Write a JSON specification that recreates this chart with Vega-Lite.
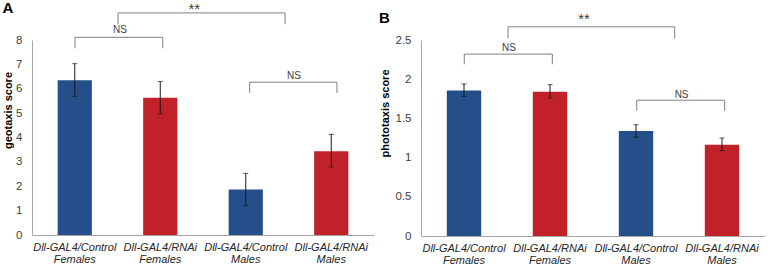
{
  "$schema": "https://vega.github.io/schema/vega-lite/v6.json",
  "padding": {"left": 2, "top": 0, "right": 0, "bottom": 0},
  "spacing": 5,
  "config": {
    "view": {"stroke": null},
    "font": "Liberation Sans",
    "axis": {"domainColor": "#a6a6a6", "grid": false, "ticks": false, "tickSize": 0, "labelColor": "#404040", "labelFont": "Liberation Sans", "titleFont": "Liberation Sans", "labelOverlap": false}
  },
  "datasets": {
    "geo": [
      {"group": "Dll-GAL4/Control Females", "genotype": "Control", "value": 6.35, "lo": 5.69, "hi": 7.03},
      {"group": "Dll-GAL4/RNAi Females", "genotype": "RNAi", "value": 5.63, "lo": 4.97, "hi": 6.3},
      {"group": "Dll-GAL4/Control Males", "genotype": "Control", "value": 1.87, "lo": 1.2, "hi": 2.53},
      {"group": "Dll-GAL4/RNAi Males", "genotype": "RNAi", "value": 3.44, "lo": 2.79, "hi": 4.13}
    ],
    "photo": [
      {"group": "Dll-GAL4/Control Females", "genotype": "Control", "value": 1.855, "lo": 1.78, "hi": 1.94},
      {"group": "Dll-GAL4/RNAi Females", "genotype": "RNAi", "value": 1.84, "lo": 1.76, "hi": 1.93},
      {"group": "Dll-GAL4/Control Males", "genotype": "Control", "value": 1.34, "lo": 1.26, "hi": 1.42},
      {"group": "Dll-GAL4/RNAi Males", "genotype": "RNAi", "value": 1.165, "lo": 1.09, "hi": 1.25}
    ],
    "geoBr": [
      {"label": "NS", "x1": 0.503, "x2": 1.53, "ytop": 8.11, "ybot": 7.66, "lx": 1.03, "ly": 8.27},
      {"label": "**", "x1": 1.006, "x2": 2.96, "ytop": 9.11, "ybot": 8.65, "lx": 1.898, "ly": 9.07},
      {"label": "NS", "x1": 2.546, "x2": 3.567, "ytop": 6.27, "ybot": 5.83, "lx": 3.065, "ly": 6.38}
    ],
    "photoBr": [
      {"label": "NS", "x1": 0.503, "x2": 1.527, "ytop": 2.32, "ybot": 2.19, "lx": 1.023, "ly": 2.363},
      {"label": "**", "x1": 1.012, "x2": 2.95, "ytop": 2.668, "ybot": 2.52, "lx": 1.895, "ly": 2.698},
      {"label": "NS", "x1": 2.508, "x2": 3.531, "ytop": 1.732, "ybot": 1.597, "lx": 3.03, "ly": 1.766}
    ]
  },
  "hconcat": [
    {
      "width": 342,
      "height": 195,
      "title": {"text": "A", "anchor": "start", "frame": "bounds", "fontSize": 15, "fontWeight": "bold", "baseline": "alphabetic", "offset": -26, "color": "#000000"},
      "layer": [
        {
          "data": {"name": "geo"},
          "layer": [
            {
              "mark": {"type": "bar"},
              "encoding": {
                "x": {"field": "group", "type": "nominal", "sort": null, "scale": {"paddingInner": 0.6, "paddingOuter": 0.3},
                  "axis": {"title": null, "labelAngle": 0, "labelExpr": "split(datum.label, ' ')", "labelFontStyle": "italic", "labelFontSize": 11, "labelLineHeight": 12, "labelPadding": 6, "labelColor": "#262626", "labelBaseline": "top"}},
                "y": {"field": "value", "type": "quantitative", "scale": {"domain": [0, 8], "nice": false},
                  "axis": {"title": "geotaxis score", "values": [0, 1, 2, 3, 4, 5, 6, 7, 8], "tickCount": 9, "labelFontSize": 11.5, "labelPadding": 10, "titleFontSize": 11, "titleFontWeight": "bold", "titleColor": "#000000", "titlePadding": 2, "titleY": 70}},
                "color": {"field": "genotype", "type": "nominal", "scale": {"domain": ["Control", "RNAi"], "range": ["#244F8A", "#C12129"]}, "legend": null}
              }
            },
            {
              "mark": {"type": "rule", "color": "#1a1a1a", "strokeWidth": 1},
              "encoding": {
                "x": {"field": "group", "type": "nominal", "sort": null},
                "y": {"field": "lo", "type": "quantitative"},
                "y2": {"field": "hi"}
              }
            },
            {
              "mark": {"type": "tick", "color": "#1a1a1a", "size": 5, "thickness": 1},
              "encoding": {
                "x": {"field": "group", "type": "nominal", "sort": null},
                "y": {"field": "lo", "type": "quantitative"}
              }
            },
            {
              "mark": {"type": "tick", "color": "#1a1a1a", "size": 5, "thickness": 1},
              "encoding": {
                "x": {"field": "group", "type": "nominal", "sort": null},
                "y": {"field": "hi", "type": "quantitative"}
              }
            }
          ]
        },
        {
          "data": {"name": "geoBr"},
          "layer": [
            {
              "mark": {"type": "rule", "color": "#7f7f7f", "strokeWidth": 1},
              "encoding": {
                "x": {"field": "x1", "type": "quantitative", "scale": {"domain": [0, 4], "nice": false, "zero": false}, "axis": null},
                "x2": {"field": "x2"},
                "y": {"field": "ytop", "type": "quantitative",
                  "axis": {"title": "geotaxis score", "values": [0, 1, 2, 3, 4, 5, 6, 7, 8], "tickCount": 9, "labelFontSize": 11.5, "labelPadding": 10, "titleFontSize": 11, "titleFontWeight": "bold", "titleColor": "#000000", "titlePadding": 2, "titleY": 70}}
              }
            },
            {
              "mark": {"type": "rule", "color": "#7f7f7f", "strokeWidth": 1},
              "encoding": {
                "x": {"field": "x1", "type": "quantitative"},
                "y": {"field": "ytop", "type": "quantitative"},
                "y2": {"field": "ybot"}
              }
            },
            {
              "mark": {"type": "rule", "color": "#7f7f7f", "strokeWidth": 1},
              "encoding": {
                "x": {"field": "x2", "type": "quantitative"},
                "y": {"field": "ytop", "type": "quantitative"},
                "y2": {"field": "ybot"}
              }
            },
            {
              "mark": {"type": "text", "baseline": "alphabetic", "align": "center", "color": "#404040"},
              "encoding": {
                "x": {"field": "lx", "type": "quantitative"},
                "y": {"field": "ly", "type": "quantitative"},
                "text": {"field": "label"},
                "size": {"condition": {"test": "datum.label === '**'", "value": 15}, "value": 10}
              }
            }
          ]
        }
      ],
      "resolve": {"scale": {"x": "independent"}}
    },
    {
      "width": 344,
      "height": 196,
      "title": {"text": "B", "anchor": "start", "frame": "bounds", "fontSize": 15, "fontWeight": "bold", "baseline": "alphabetic", "offset": -26, "color": "#000000"},
      "layer": [
        {
          "data": {"name": "photo"},
          "layer": [
            {
              "mark": {"type": "bar"},
              "encoding": {
                "x": {"field": "group", "type": "nominal", "sort": null, "scale": {"paddingInner": 0.6, "paddingOuter": 0.3},
                  "axis": {"title": null, "labelAngle": 0, "labelExpr": "split(datum.label, ' ')", "labelFontStyle": "italic", "labelFontSize": 11, "labelLineHeight": 12, "labelPadding": 6, "labelColor": "#262626", "labelBaseline": "top"}},
                "y": {"field": "value", "type": "quantitative", "scale": {"domain": [0, 2.5], "nice": false},
                  "axis": {"title": "phototaxis score", "values": [0, 0.5, 1, 1.5, 2, 2.5], "tickCount": 6, "format": "~g", "labelFontSize": 11.5, "labelPadding": 10, "titleFontSize": 11, "titleFontWeight": "bold", "titleColor": "#000000", "titlePadding": 5, "titleY": 73}},
                "color": {"field": "genotype", "type": "nominal", "scale": {"domain": ["Control", "RNAi"], "range": ["#244F8A", "#C12129"]}, "legend": null}
              }
            },
            {
              "mark": {"type": "rule", "color": "#1a1a1a", "strokeWidth": 1},
              "encoding": {
                "x": {"field": "group", "type": "nominal", "sort": null},
                "y": {"field": "lo", "type": "quantitative"},
                "y2": {"field": "hi"}
              }
            },
            {
              "mark": {"type": "tick", "color": "#1a1a1a", "size": 5, "thickness": 1},
              "encoding": {
                "x": {"field": "group", "type": "nominal", "sort": null},
                "y": {"field": "lo", "type": "quantitative"}
              }
            },
            {
              "mark": {"type": "tick", "color": "#1a1a1a", "size": 5, "thickness": 1},
              "encoding": {
                "x": {"field": "group", "type": "nominal", "sort": null},
                "y": {"field": "hi", "type": "quantitative"}
              }
            }
          ]
        },
        {
          "data": {"name": "photoBr"},
          "layer": [
            {
              "mark": {"type": "rule", "color": "#7f7f7f", "strokeWidth": 1},
              "encoding": {
                "x": {"field": "x1", "type": "quantitative", "scale": {"domain": [0, 4], "nice": false, "zero": false}, "axis": null},
                "x2": {"field": "x2"},
                "y": {"field": "ytop", "type": "quantitative",
                  "axis": {"title": "phototaxis score", "values": [0, 0.5, 1, 1.5, 2, 2.5], "tickCount": 6, "format": "~g", "labelFontSize": 11.5, "labelPadding": 10, "titleFontSize": 11, "titleFontWeight": "bold", "titleColor": "#000000", "titlePadding": 5, "titleY": 73}}
              }
            },
            {
              "mark": {"type": "rule", "color": "#7f7f7f", "strokeWidth": 1},
              "encoding": {
                "x": {"field": "x1", "type": "quantitative"},
                "y": {"field": "ytop", "type": "quantitative"},
                "y2": {"field": "ybot"}
              }
            },
            {
              "mark": {"type": "rule", "color": "#7f7f7f", "strokeWidth": 1},
              "encoding": {
                "x": {"field": "x2", "type": "quantitative"},
                "y": {"field": "ytop", "type": "quantitative"},
                "y2": {"field": "ybot"}
              }
            },
            {
              "mark": {"type": "text", "baseline": "alphabetic", "align": "center", "color": "#404040"},
              "encoding": {
                "x": {"field": "lx", "type": "quantitative"},
                "y": {"field": "ly", "type": "quantitative"},
                "text": {"field": "label"},
                "size": {"condition": {"test": "datum.label === '**'", "value": 15}, "value": 10}
              }
            }
          ]
        }
      ],
      "resolve": {"scale": {"x": "independent"}}
    }
  ]
}
